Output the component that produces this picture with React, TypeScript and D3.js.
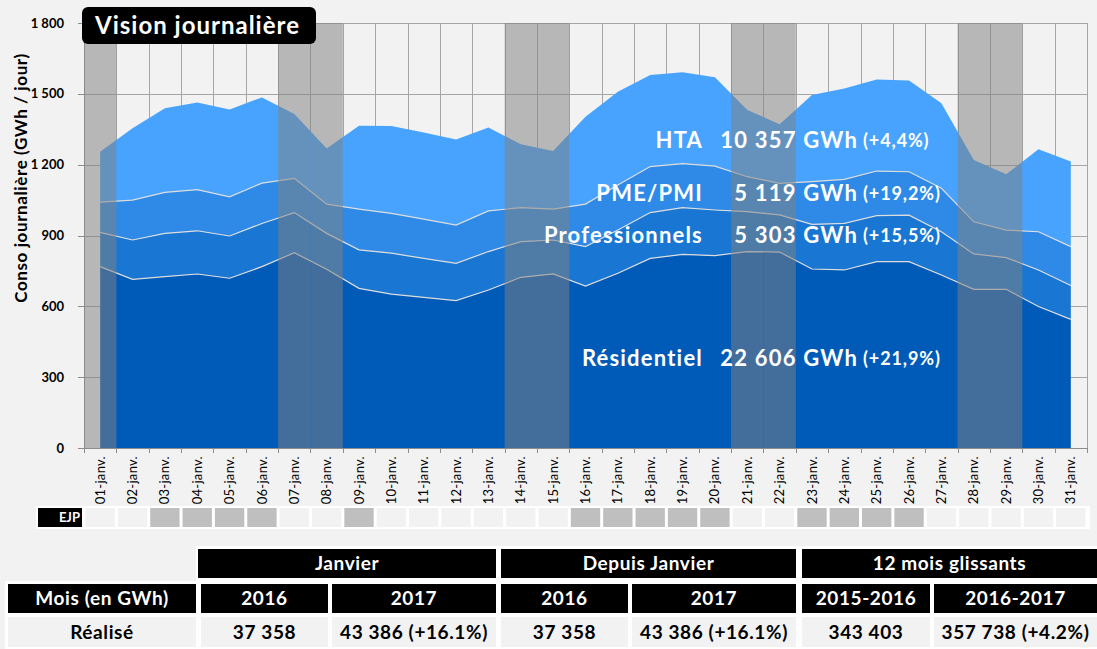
import { useEffect, useRef } from 'react';
import * as d3 from 'd3';

const days = [
  '01-janv.', '02-janv.', '03-janv.', '04-janv.', '05-janv.', '06-janv.', '07-janv.', '08-janv.',
  '09-janv.', '10-janv.', '11-janv.', '12-janv.', '13-janv.', '14-janv.', '15-janv.', '16-janv.',
  '17-janv.', '18-janv.', '19-janv.', '20-janv.', '21-janv.', '22-janv.', '23-janv.', '24-janv.',
  '25-janv.', '26-janv.', '27-janv.', '28-janv.', '29-janv.', '30-janv.', '31-janv.',
];

// GWh / jour, par segment (empilés de bas en haut)
const residentiel = [768, 714, 726, 737, 719, 768, 827, 757, 676, 652, 638, 624, 669, 723, 737, 686,
  740, 803, 820, 815, 832, 830, 758, 754, 789, 789, 733, 672, 672, 599, 545];
const professionnels = [145, 167, 183, 183, 179, 183, 170, 152, 163, 173, 165, 158, 163, 151, 144, 167,
  183, 194, 198, 193, 169, 157, 189, 197, 195, 197, 183, 150, 134, 155, 143];
const pmePmi = [128, 169, 174, 174, 166, 171, 145, 124, 173, 169, 166, 162, 172, 144, 131, 180,
  191, 195, 186, 186, 148, 134, 181, 187, 189, 184, 184, 136, 117, 162, 165];
const hta = [214, 304, 356, 369, 370, 363, 273, 236, 353, 370, 367, 363, 353, 268, 246, 370,
  395, 388, 387, 376, 283, 250, 367, 385, 388, 386, 360, 262, 236, 349, 360];

const weekendDays = ['01-janv.', '07-janv.', '08-janv.', '14-janv.', '15-janv.', '21-janv.', '22-janv.', '28-janv.', '29-janv.'];
const ejpDays = ['03-janv.', '04-janv.', '05-janv.', '06-janv.', '09-janv.', '16-janv.', '17-janv.', '18-janv.',
  '19-janv.', '20-janv.', '23-janv.', '24-janv.', '25-janv.', '26-janv.'];

const yTicks = [0, 300, 600, 900, 1200, 1500, 1800];

const segmentKeys = ['residentiel', 'professionnels', 'pmePmi', 'hta'];
const segmentColors = ['#005bb8', '#1976d2', '#2e8ae6', '#48a3fe'];

const segmentLabels = [
  { name: 'HTA', value: '10 357 GWh', pct: '(+4,4%)', y: 148 },
  { name: 'PME/PMI', value: '5 119 GWh', pct: '(+19,2%)', y: 201 },
  { name: 'Professionnels', value: '5 303 GWh', pct: '(+15,5%)', y: 243 },
  { name: 'Résidentiel', value: '22 606 GWh', pct: '(+21,9%)', y: 366 },
];

const tableGroups = ['Janvier', 'Depuis Janvier', '12 mois glissants'];
const tableHeaders = ['Mois (en GWh)', '2016', '2017', '2016', '2017', '2015-2016', '2016-2017'];
const tableValues = ['Réalisé', '37 358', '43 386 (+16.1%)', '37 358', '43 386 (+16.1%)', '343 403', '357 738 (+4.2%)'];

const FONT = "Lato, 'Open Sans', sans-serif";

const App = () => {
  const chartRef = useRef<SVGSVGElement>(null);

  useEffect(() => {
    if (!chartRef.current) return;
    const root = d3.select(chartRef.current);
    root.selectAll('*').remove();

    const W = 1097;
    const H = 649;
    const left = 84, right = 1087, top = 23, bottom = 448;

    root.append('rect').attr('width', W).attr('height', H).attr('fill', '#f2f2f2');

    const x = d3.scaleBand().domain(days).range([left, right]).padding(0);
    const y = d3.scaleLinear().domain([0, 1800]).range([bottom, top]);
    const bw = x.bandwidth();
    const cx = (d: string) => (x(d) || 0) + bw / 2;

    // grille
    const grid = root.append('g').attr('stroke', '#a6a6a6').attr('stroke-width', 1);
    grid.selectAll('.h').data(yTicks.filter(t => t > 0)).enter().append('line')
      .attr('x1', left).attr('x2', right)
      .attr('y1', d => Math.round(y(d)) + 0.5).attr('y2', d => Math.round(y(d)) + 0.5);
    grid.selectAll('.v').data(d3.range(days.length + 1)).enter().append('line')
      .attr('x1', i => Math.round(left + i * bw) + 0.5).attr('x2', i => Math.round(left + i * bw) + 0.5)
      .attr('y1', top).attr('y2', bottom);

    // aires empilées
    const rows = days.map((d, i) => ({
      day: d,
      residentiel: residentiel[i],
      professionnels: professionnels[i],
      pmePmi: pmePmi[i],
      hta: hta[i],
    }));
    const series = d3.stack<any>().keys(segmentKeys)(rows);
    const area = d3.area<any>()
      .x(d => cx(d.data.day))
      .y0(d => y(d[0]))
      .y1(d => y(d[1]));
    root.append('g').selectAll('path').data(series).enter().append('path')
      .attr('d', area)
      .attr('fill', (_, i) => segmentColors[i]);

    const line = d3.line<any>().x(d => cx(d.data.day)).y(d => y(d[1]));
    root.append('g').selectAll('path').data(series.slice(0, 3)).enter().append('path')
      .attr('d', line)
      .attr('fill', 'none')
      .attr('stroke', '#dcdcdc')
      .attr('stroke-width', 1.2);

    // week-ends
    root.append('g').selectAll('rect').data(weekendDays).enter().append('rect')
      .attr('x', d => x(d) || 0)
      .attr('y', top)
      .attr('width', bw)
      .attr('height', bottom - top)
      .attr('fill', '#808080')
      .attr('fill-opacity', 0.52);

    // axes
    root.append('line').attr('x1', left + 0.5).attr('x2', left + 0.5).attr('y1', top).attr('y2', bottom)
      .attr('stroke', '#8c8c8c');
    root.append('line').attr('x1', left).attr('x2', right + 1).attr('y1', bottom + 0.5).attr('y2', bottom + 0.5)
      .attr('stroke', '#8c8c8c');
    root.append('g').selectAll('line').data(yTicks).enter().append('line')
      .attr('x1', left - 6).attr('x2', left)
      .attr('y1', d => Math.round(y(d)) + 0.5).attr('y2', d => Math.round(y(d)) + 0.5)
      .attr('stroke', '#8c8c8c');
    root.append('g').selectAll('line').data(d3.range(days.length + 1)).enter().append('line')
      .attr('x1', i => Math.round(left + i * bw) + 0.5).attr('x2', i => Math.round(left + i * bw) + 0.5)
      .attr('y1', bottom).attr('y2', bottom + 5)
      .attr('stroke', '#8c8c8c');

    root.append('g').selectAll('text').data(yTicks).enter().append('text')
      .attr('x', 64)
      .attr('y', d => y(d))
      .attr('dy', '0.35em')
      .attr('text-anchor', 'end')
      .style('font-family', FONT)
      .style('font-size', '13px')
      .style('font-weight', 700)
      .text(d => d3.format(',')(d).replace(',', ' '));

    root.append('g').selectAll('text').data(days).enter().append('text')
      .attr('transform', d => `translate(${cx(d)},${bottom + 8}) rotate(-90)`)
      .attr('dy', '0.35em')
      .attr('text-anchor', 'end')
      .style('font-family', FONT)
      .style('font-size', '13px')
      .style('letter-spacing', '0.3px')
      .text(d => d);

    root.append('text')
      .attr('transform', `translate(27, 178) rotate(-90)`)
      .attr('text-anchor', 'middle')
      .style('font-family', FONT)
      .style('font-size', '17px')
      .style('font-weight', 700)
      .style('letter-spacing', '0.6px')
      .text('Conso journalière (GWh / jour)');

    // titre
    root.append('rect').attr('x', 82).attr('y', 7).attr('width', 234).attr('height', 37).attr('rx', 6)
      .attr('fill', '#000');
    root.append('text').attr('x', 95).attr('y', 34)
      .attr('fill', '#fff')
      .style('font-family', FONT)
      .style('font-size', '24px')
      .style('font-weight', 700)
      .style('letter-spacing', '1px')
      .text('Vision journalière');

    // étiquettes des segments
    const lbl = root.append('g').attr('fill', '#fff').style('font-family', FONT).style('font-weight', 700);
    segmentLabels.forEach(s => {
      lbl.append('text').attr('x', 703).attr('y', s.y).attr('text-anchor', 'end')
        .style('font-size', '22px').style('letter-spacing', '1.2px').text(s.name);
      lbl.append('text').attr('x', 858).attr('y', s.y).attr('text-anchor', 'end')
        .style('font-size', '22px').style('letter-spacing', '1.2px').text(s.value);
      lbl.append('text').attr('x', 863).attr('y', s.y - 1)
        .style('font-size', '18px').style('letter-spacing', '0.9px').text(s.pct);
    });

    // ligne EJP
    root.append('rect').attr('x', 36).attr('y', 506).attr('width', 1054).attr('height', 23).attr('fill', '#fff');
    root.append('rect').attr('x', 38).attr('y', 508).attr('width', 44).attr('height', 19).attr('fill', '#000');
    root.append('text').attr('x', 80).attr('y', 522).attr('text-anchor', 'end')
      .attr('fill', '#fff')
      .style('font-family', FONT).style('font-size', '13px').style('font-weight', 700)
      .text('EJP');
    root.append('g').selectAll('rect').data(days).enter().append('rect')
      .attr('x', d => (x(d) || 0) + 1.5)
      .attr('y', 508)
      .attr('width', bw - 3)
      .attr('height', 19)
      .attr('fill', d => (ejpDays.includes(d) ? '#bfbfbf' : '#f2f2f2'));

    // tableau
    const colX = [8, 201, 332, 501, 632, 802, 934];
    const colEnd = [196, 328, 496, 628, 796, 930, 1097];
    const groupX = [198, 501, 802];
    const groupEnd = [496, 796, 1097];
    const tbl = root.append('g').style('font-family', FONT).style('font-weight', 700)
      .style('font-size', '19px').style('letter-spacing', '0.6px');
    tbl.append('rect').attr('x', 196).attr('y', 546).attr('width', W - 196).attr('height', 36).attr('fill', '#fff');
    tbl.append('rect').attr('x', 5).attr('y', 581).attr('width', W - 5).attr('height', H - 581).attr('fill', '#fff');
    tableGroups.forEach((g, i) => {
      tbl.append('rect').attr('x', groupX[i]).attr('y', 549).attr('width', groupEnd[i] - groupX[i]).attr('height', 29)
        .attr('fill', '#000');
      tbl.append('text').attr('x', (groupX[i] + groupEnd[i]) / 2).attr('y', 570).attr('text-anchor', 'middle')
        .attr('fill', '#fff').text(g);
    });
    tableHeaders.forEach((h, i) => {
      tbl.append('rect').attr('x', colX[i]).attr('y', 584).attr('width', colEnd[i] - colX[i]).attr('height', 29)
        .attr('fill', '#000');
      tbl.append('text').attr('x', (colX[i] + colEnd[i]) / 2).attr('y', 605).attr('text-anchor', 'middle')
        .attr('fill', '#fff').text(h);
    });
    tableValues.forEach((v, i) => {
      tbl.append('rect').attr('x', colX[i]).attr('y', 617).attr('width', colEnd[i] - colX[i]).attr('height', 30)
        .attr('fill', '#f2f2f2');
      tbl.append('text').attr('x', (colX[i] + colEnd[i]) / 2).attr('y', 639).attr('text-anchor', 'middle')
        .attr('fill', '#000').text(v);
    });
  }, []);

  return (
    <svg
      ref={chartRef}
      width={1097}
      height={649}
      style={{ position: 'absolute', left: 0, top: 0, display: 'block' }}
    />
  );
};

export default App;
